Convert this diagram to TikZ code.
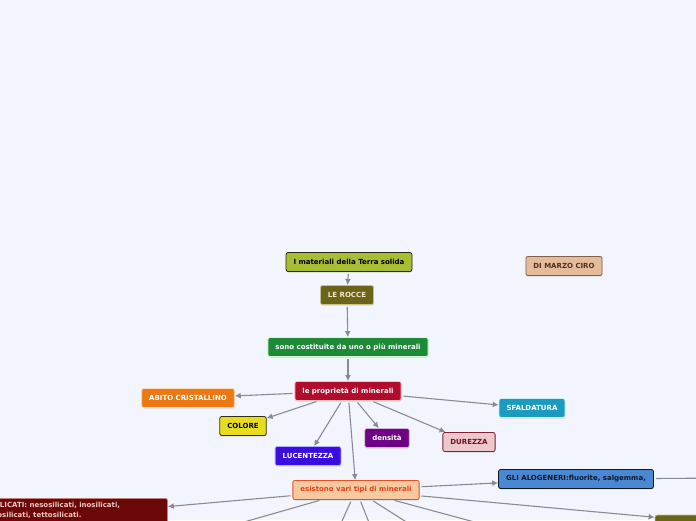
\documentclass[tikz,border=0pt]{standalone}
\usepackage{fontspec}
\setmainfont{DejaVu Sans}
\usetikzlibrary{arrows.meta,positioning,shadows}

\definecolor{sfondo}{HTML}{F2F5FE}
\definecolor{linea}{HTML}{8A8A92}

\begin{document}
\begin{tikzpicture}[x=1pt,y=-1pt,
  box/.style={draw, rounded corners=2pt, line width=0.8pt, minimum height=19pt,
    inner xsep=7.5pt, inner ysep=2pt, font=\fontsize{7}{9.2}\selectfont\bfseries,
    drop shadow={shadow xshift=0.4pt, shadow yshift=-1pt, opacity=0.25}},
  freccia/.style={draw=linea, line width=1.1pt, -{Latex[length=6pt,width=6pt]}, shorten <=2pt},
  ramo/.style={draw=linea, line width=1.1pt, shorten <=2pt}]
\useasboundingbox (0,0) rectangle (696,520);
\clip (0,0) rectangle (696,520);
\fill[sfondo] (0,0) rectangle (696,520);

% nodi principali
\node[box, fill={rgb,255:red,168;green,188;blue,52}, draw={rgb,255:red,40;green,40;blue,16}, text=black] (terra) at (349,262) {I materiali della Terra solida};
\node[box, fill={rgb,255:red,106;green,100;blue,24}, draw={rgb,255:red,200;green,192;blue,144}, text={rgb,255:red,240;green,232;blue,200}] (rocce) at (347,295) {LE ROCCE};
\node[box, fill={rgb,255:red,228;green,188;blue,156}, draw={rgb,255:red,128;green,96;blue,72}, text={rgb,255:red,80;green,48;blue,32}] (autore) at (564,266) {DI MARZO CIRO};
\node[box, fill={rgb,255:red,30;green,138;blue,56}, draw=white!80!green, text=white] (sono) at (348,347) {sono costituite da uno o più minerali};
\node[box, fill={rgb,255:red,176;green,12;blue,44}, draw=white!75!red, text=white] (prop) at (348,391) {le proprietà di minerali};

% proprieta
\node[box, fill={rgb,255:red,236;green,120;blue,20}, draw=white!70!orange, text=white] (abito) at (188,398) {ABITO CRISTALLINO};
\node[box, fill={rgb,255:red,232;green,220;blue,32}, draw={rgb,255:red,48;green,48;blue,16}, text=black] (colore) at (243,426) {COLORE};
\node[box, fill={rgb,255:red,58;green,12;blue,224}, draw=white!70!blue, text=white] (lucent) at (308,456) {LUCENTEZZA};
\node[box, fill={rgb,255:red,110;green,4;blue,132}, draw=white!70!violet, text=white] (densita) at (387,438) {densità};
\node[box, fill={rgb,255:red,236;green,200;blue,204}, draw={rgb,255:red,128;green,32;blue,48}, text={rgb,255:red,112;green,16;blue,32}] (durezza) at (469,442) {DUREZZA};
\node[box, fill={rgb,255:red,26;green,156;blue,192}, draw=white!80!cyan, text=white] (sfald) at (532,408) {SFALDATURA};

% tipi di minerali
\node[box, fill={rgb,255:red,248;green,200;blue,160}, draw={rgb,255:red,232;green,80;blue,32}, text={rgb,255:red,232;green,64;blue,16}] (tipi) at (356,490) {esistono vari tipi di minerali};
\node[box, fill={rgb,255:red,74;green,136;blue,212}, draw={rgb,255:red,16;green,24;blue,32}, text={rgb,255:red,16;green,24;blue,40}] (alog) at (576,479) {GLI ALOGENERI:fluorite, salgemma,};
\node[box, anchor=north west, fill={rgb,255:red,108;green,8;blue,8}, draw={rgb,255:red,192;green,128;blue,128}, text={rgb,255:red,240;green,200;blue,200},
  text width=176pt, inner xsep=4pt, inner ysep=4pt, align=left, font=\fontsize{7}{9.6}\selectfont\bfseries] (silic) at (-17,498) {I SILICATI: nesosilicati, inosilicati,\\ fillosilicati, tettosilicati.\\ \phantom{x}};
\node[box, fill={rgb,255:red,106;green,100;blue,24}, draw={rgb,255:red,200;green,192;blue,144}, minimum width=170pt, minimum height=20pt] (oliva) at (740,525) {};

% rami che escono dal disegno
\foreach \n/\p in {c1/{216,530}, c2/{338,530}, c3/{372,530}, c4/{419,530}, c5/{504,530}, r1/{730,478}}
  \coordinate (\n) at (\p);

% collegamenti
\draw[freccia] (terra) -- (rocce);
\draw[freccia] (rocce) -- (sono);
\draw[freccia] (sono) -- (prop);
\foreach \t in {abito,colore,lucent,densita,durezza,sfald,tipi}
  \draw[freccia] (prop) -- (\t);
\foreach \t in {alog,silic,oliva}
  \draw[freccia] (tipi) -- (\t);
\foreach \t in {c1,c2,c3,c4,c5}
  \draw[ramo] (tipi) -- (\t);
\draw[ramo] (alog) -- (r1);
\end{tikzpicture}
\end{document}
